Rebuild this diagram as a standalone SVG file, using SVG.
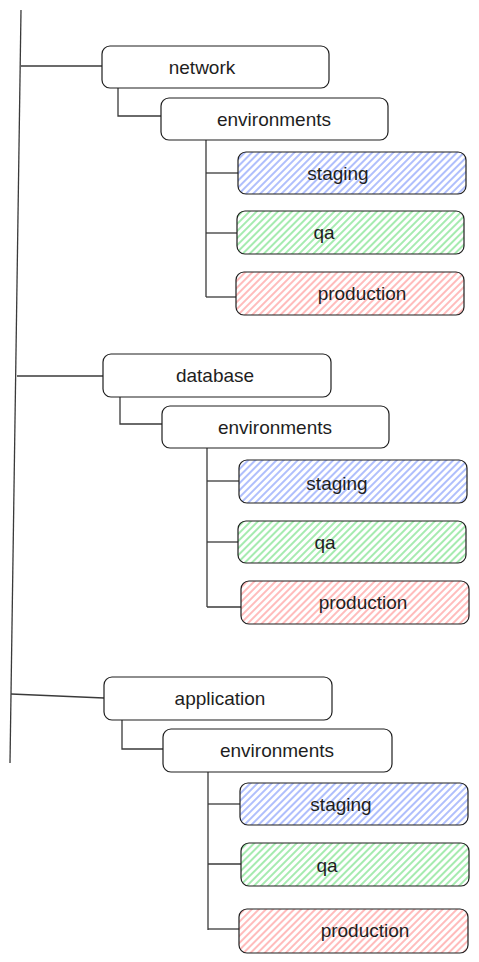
<svg xmlns="http://www.w3.org/2000/svg" width="479" height="962" viewBox="0 0 479 962">
<defs>
<pattern id="hBlue" patternUnits="userSpaceOnUse" width="5" height="5" patternTransform="rotate(45)"><line x1="1" y1="0" x2="1" y2="5" stroke="#b0bffc" stroke-width="2"/></pattern>
<pattern id="hGreen" patternUnits="userSpaceOnUse" width="5" height="5" patternTransform="rotate(45)"><line x1="1" y1="0" x2="1" y2="5" stroke="#a6ebb0" stroke-width="2"/></pattern>
<pattern id="hRed" patternUnits="userSpaceOnUse" width="5" height="5" patternTransform="rotate(45)"><line x1="1" y1="0" x2="1" y2="5" stroke="#ffbcbc" stroke-width="2"/></pattern>
</defs>
<style>
.box{fill:#ffffff;stroke:#1e1e1e;stroke-width:1.2}
.blue{fill:url(#hBlue);stroke:#1e1e1e;stroke-width:1.2}
.green{fill:url(#hGreen);stroke:#1e1e1e;stroke-width:1.2}
.red{fill:url(#hRed);stroke:#1e1e1e;stroke-width:1.2}
.lbl{font-family:"Liberation Sans",Arial,sans-serif;font-size:19px;fill:#1e1e1e;text-anchor:middle;dominant-baseline:central}
.ln{fill:none;stroke:#3a3a3a;stroke-width:1.3}
</style>
<g id="connectors">
<path class="ln" d="M21 10 L10 763"/>
<path class="ln" d="M21 66 L102 66"/>
<path class="ln" d="M118 88 L118 116 L161 116"/>
<path class="ln" d="M206 140 L206 297"/>
<path class="ln" d="M206 173 L238 173"/>
<path class="ln" d="M206 233 L237 233"/>
<path class="ln" d="M206 297 L236 297"/>
<path class="ln" d="M17 376 L103 376"/>
<path class="ln" d="M120 397 L120 424 L162 424"/>
<path class="ln" d="M207 448 L207 607"/>
<path class="ln" d="M207 481 L239 481"/>
<path class="ln" d="M207 542 L238 542"/>
<path class="ln" d="M207 607 L241 607"/>
<path class="ln" d="M11 694 L104 698"/>
<path class="ln" d="M122 720 L122 749 L163 749"/>
<path class="ln" d="M208 772 L208 930"/>
<path class="ln" d="M208 804 L240 804"/>
<path class="ln" d="M208 864 L241 864"/>
<path class="ln" d="M208 929 L239 929"/>
</g>
<g id="network"><rect class="box" x="102" y="46" width="227" height="42" rx="8"/><text class="lbl" x="202" y="67">network</text></g>
<g id="network-env"><rect class="box" x="161" y="98" width="227" height="42" rx="8"/><text class="lbl" x="274" y="119">environments</text></g>
<g id="network-staging"><rect class="blue" x="238" y="152" width="228" height="42" rx="8"/><text class="lbl" x="338" y="173">staging</text></g>
<g id="network-qa"><rect class="green" x="237" y="211" width="227" height="43" rx="8"/><text class="lbl" x="324" y="232">qa</text></g>
<g id="network-production"><rect class="red" x="236" y="272" width="228" height="43" rx="8"/><text class="lbl" x="362" y="293">production</text></g>
<g id="database"><rect class="box" x="103" y="354" width="228" height="43" rx="8"/><text class="lbl" x="215" y="375">database</text></g>
<g id="database-env"><rect class="box" x="162" y="406" width="227" height="42" rx="8"/><text class="lbl" x="275" y="427">environments</text></g>
<g id="database-staging"><rect class="blue" x="239" y="460" width="228" height="43" rx="8"/><text class="lbl" x="337" y="483">staging</text></g>
<g id="database-qa"><rect class="green" x="238" y="521" width="228" height="42" rx="8"/><text class="lbl" x="325" y="542">qa</text></g>
<g id="database-production"><rect class="red" x="241" y="581" width="228" height="43" rx="8"/><text class="lbl" x="363" y="602">production</text></g>
<g id="application"><rect class="box" x="104" y="677" width="228" height="43" rx="8"/><text class="lbl" x="220" y="698">application</text></g>
<g id="application-env"><rect class="box" x="163" y="729" width="229" height="43" rx="8"/><text class="lbl" x="277" y="750">environments</text></g>
<g id="application-staging"><rect class="blue" x="240" y="783" width="228" height="42" rx="8"/><text class="lbl" x="341" y="804">staging</text></g>
<g id="application-qa"><rect class="green" x="241" y="843" width="228" height="43" rx="8"/><text class="lbl" x="327" y="865">qa</text></g>
<g id="application-production"><rect class="red" x="239" y="909" width="229" height="44" rx="8"/><text class="lbl" x="365" y="930">production</text></g>
</svg>
